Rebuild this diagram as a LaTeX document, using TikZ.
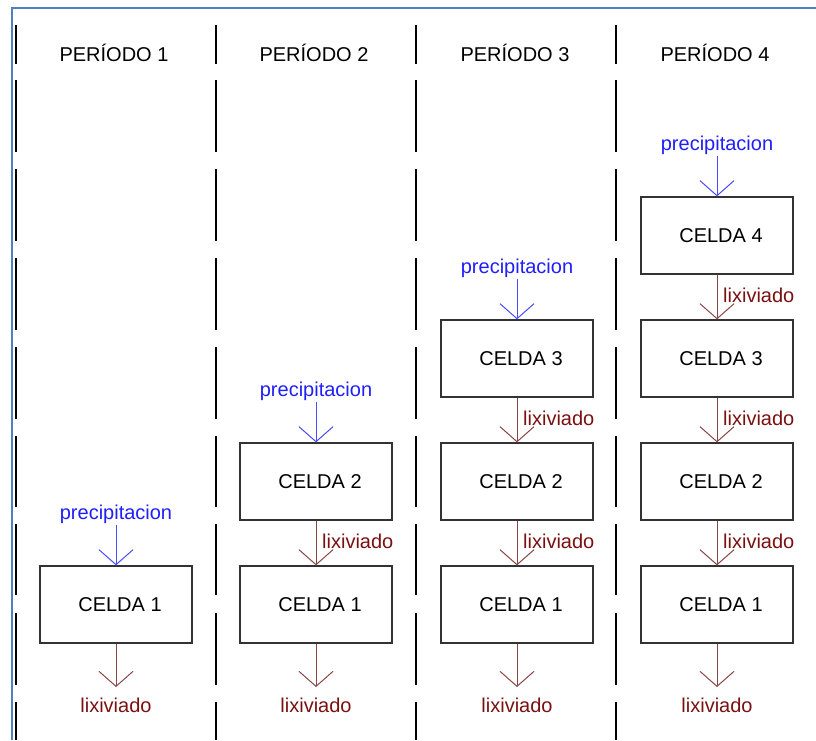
\documentclass[tikz,border=0pt]{standalone}
\usepackage{fontspec}
\setmainfont{Liberation Sans}
\usetikzlibrary{arrows.meta}
\definecolor{frameblue}{HTML}{4F81BD}
\definecolor{precblue}{HTML}{1E1EFF}
\definecolor{precarrow}{HTML}{4A4AFF}
\definecolor{lixred}{HTML}{7A1010}
\definecolor{lixarrow}{HTML}{8A4545}
\definecolor{boxline}{HTML}{333333}
\tikzset{
  txt/.style={font=\fontsize{20}{22}\selectfont, inner sep=1pt},
  header/.style={txt, text=black},
  celda/.style={draw=boxline, line width=1.3pt, minimum width=152pt, minimum height=77pt, inner sep=0pt, txt},
  prec/.style={txt, text=precblue},
  lix/.style={txt, text=lixred},
  precflow/.style={draw=precarrow, line width=1pt, -{Straight Barb[length=15pt,width=34pt]}},
  lixflow/.style={draw=lixarrow, line width=1pt, -{Straight Barb[length=15pt,width=34pt]}},
  sep/.style={draw=black, line width=1.4pt},
}
\begin{document}
\begin{tikzpicture}[x=1pt,y=-1pt]
\useasboundingbox (0,0) rectangle (816,740);
% frame
\draw[frameblue, line width=2.5pt] (12,740) -- (12,8) -- (816,8);
% dashed separators
\foreach \sx in {16,216,416,616}{
  \foreach \ya/\yb in {25/64,80/152,169/241,258/330,347/419,436/507,524/595,613/685,702/740}{
    \draw[sep] (\sx,\ya) -- (\sx,\yb);
  }
}
% headers
\node[header] (h1) at (114,53) {PERÍODO 1};
\node[header] (h2) at (314,53) {PERÍODO 2};
\node[header] (h3) at (515,53) {PERÍODO 3};
\node[header] (h4) at (715,53) {PERÍODO 4};

% Column 1
\node[celda] (a1) at (116,604.5) {\hspace*{8pt}CELDA 1};
\node[prec] (pa) at (116,514) {precipitacion};
\draw[precflow] (pa.south) -- (a1.north);
\coordinate (ea) at (116,687);
\draw[lixflow] (a1.south) -- (ea);
\node[lix] (la) at (116,705) {lixiviado};

% Column 2
\node[celda] (b1) at (316,604.5) {\hspace*{8pt}CELDA 1};
\node[celda] (b2) at (316,481.5) {\hspace*{8pt}CELDA 2};
\node[prec] (pb) at (316,391) {precipitacion};
\draw[precflow] (pb.south) -- (b2.north);
\draw[lixflow] (b2.south) -- (b1.north);
\node[lix, anchor=west] (lb21) at (321,541) {lixiviado};
\coordinate (eb) at (316,687);
\draw[lixflow] (b1.south) -- (eb);
\node[lix] (lb) at (316,705) {lixiviado};

% Column 3
\node[celda] (c1) at (517,604.5) {\hspace*{8pt}CELDA 1};
\node[celda] (c2) at (517,481.5) {\hspace*{8pt}CELDA 2};
\node[celda] (c3) at (517,358.5) {\hspace*{8pt}CELDA 3};
\node[prec] (pc) at (517,268) {precipitacion};
\draw[precflow] (pc.south) -- (c3.north);
\draw[lixflow] (c3.south) -- (c2.north);
\node[lix, anchor=west] (lc32) at (522,418) {lixiviado};
\draw[lixflow] (c2.south) -- (c1.north);
\node[lix, anchor=west] (lc21) at (522,541) {lixiviado};
\coordinate (ec) at (517,687);
\draw[lixflow] (c1.south) -- (ec);
\node[lix] (lc) at (517,705) {lixiviado};

% Column 4
\node[celda] (d1) at (717,604.5) {\hspace*{8pt}CELDA 1};
\node[celda] (d2) at (717,481.5) {\hspace*{8pt}CELDA 2};
\node[celda] (d3) at (717,358.5) {\hspace*{8pt}CELDA 3};
\node[celda] (d4) at (717,235.5) {\hspace*{8pt}CELDA 4};
\node[prec] (pd) at (717,145) {precipitacion};
\draw[precflow] (pd.south) -- (d4.north);
\draw[lixflow] (d4.south) -- (d3.north);
\node[lix, anchor=west] (ld43) at (722,295) {lixiviado};
\draw[lixflow] (d3.south) -- (d2.north);
\node[lix, anchor=west] (ld32) at (722,418) {lixiviado};
\draw[lixflow] (d2.south) -- (d1.north);
\node[lix, anchor=west] (ld21) at (722,541) {lixiviado};
\coordinate (ed) at (717,687);
\draw[lixflow] (d1.south) -- (ed);
\node[lix] (ld) at (717,705) {lixiviado};
\end{tikzpicture}
\end{document}
